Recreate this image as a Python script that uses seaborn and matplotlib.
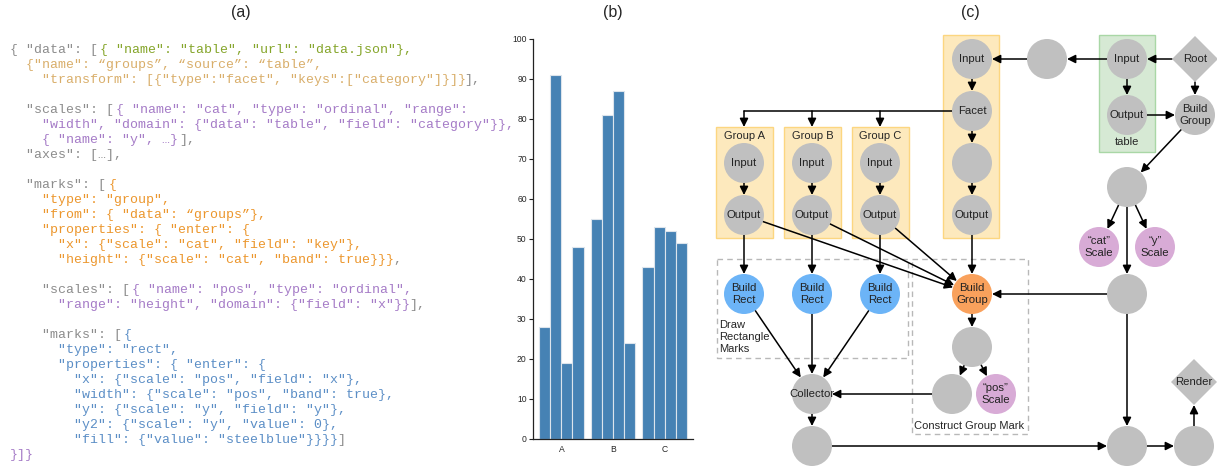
import numpy as np
import pandas as pd
import seaborn as sns
import matplotlib.pyplot as plt
from matplotlib.patches import Circle, Rectangle, Polygon

# ---------------- data ----------------
categories = ["A", "B", "C"]
bar_ids = ["b1", "b2", "b3", "b4"]
values_A = [28, 91, 19, 48]
values_B = [55, 81, 87, 24]
values_C = [43, 53, 52, 49]
y_ticks = list(range(0, 101, 10))

GRAY_T = "#8c8c8c"
GREEN_T = "#85a52a"
TAN_T = "#d9ae6a"
PURP_T = "#a57bc7"
ORNG_T = "#ec962c"
BLUE_T = "#5b8ec6"

code_lines = [
    [('{ "data": [', GRAY_T), ('{ "name": "table", "url": "data.json"},', GREEN_T)],
    [('  {"name": “groups”, “source”: “table”,', TAN_T)],
    [('    "transform": [{"type":"facet", "keys":["category"]}]}', TAN_T), ('],', GRAY_T)],
    [],
    [('  "scales": [', GRAY_T), ('{ "name": "cat", "type": "ordinal", "range":', PURP_T)],
    [('    "width", "domain": {"data": "table", "field": "category"}},', PURP_T)],
    [('    { "name": "y", …}', PURP_T), ('],', GRAY_T)],
    [('  "axes": […],', GRAY_T)],
    [],
    [('  "marks": [', GRAY_T), ('{', ORNG_T)],
    [('    "type": "group",', ORNG_T)],
    [('    "from": { "data": “groups”},', ORNG_T)],
    [('    "properties": { "enter": {', ORNG_T)],
    [('      "x": {"scale": "cat", "field": "key"},', ORNG_T)],
    [('      "height": {"scale": "cat", "band": true}}}', ORNG_T), (',', GRAY_T)],
    [],
    [('    "scales": [', GRAY_T), ('{ "name": "pos", "type": "ordinal",', PURP_T)],
    [('      "range": "height", "domain": {"field": "x"}}', PURP_T), ('],', GRAY_T)],
    [],
    [('    "marks": [', GRAY_T), ('{', BLUE_T)],
    [('      "type": "rect",', BLUE_T)],
    [('      "properties": { "enter": {', BLUE_T)],
    [('        "x": {"scale": "pos", "field": "x"},', BLUE_T)],
    [('        "width": {"scale": "pos", "band": true},', BLUE_T)],
    [('        "y": {"scale": "y", "field": "y"},', BLUE_T)],
    [('        "y2": {"scale": "y", "value": 0},', BLUE_T)],
    [('        "fill": {"value": "steelblue"}}}}', BLUE_T), (']', GRAY_T)],
    [('}]}', PURP_T)],
]

# dataflow graph (c)
GRAY = "#c0c0c0"
BLUE = "#6cb4f7"
ORANGE = "#f9a15c"
PINK = "#d8abd6"
nodes = {
    "root":   (1195, 59, "diamond", GRAY, "Root"),
    "t_in":   (1127, 59, "circle", GRAY, "Input"),
    "t_out":  (1127, 115, "circle", GRAY, "Output"),
    "bg0":    (1195, 115, "circle", GRAY, "Build\nGroup"),
    "n1":     (1047, 59, "circle", GRAY, ""),
    "f_in":   (972, 59, "circle", GRAY, "Input"),
    "facet":  (972, 111, "circle", GRAY, "Facet"),
    "f_mid":  (972, 163, "circle", GRAY, ""),
    "f_out":  (972, 215, "circle", GRAY, "Output"),
    "a_in":   (744, 163, "circle", GRAY, "Input"),
    "b_in":   (812, 163, "circle", GRAY, "Input"),
    "c_in":   (880, 163, "circle", GRAY, "Input"),
    "a_out":  (744, 215, "circle", GRAY, "Output"),
    "b_out":  (812, 215, "circle", GRAY, "Output"),
    "c_out":  (880, 215, "circle", GRAY, "Output"),
    "a_rect": (744, 294, "circle", BLUE, "Build\nRect"),
    "b_rect": (812, 294, "circle", BLUE, "Build\nRect"),
    "c_rect": (880, 294, "circle", BLUE, "Build\nRect"),
    "coll":   (812, 394, "circle", GRAY, "Collector"),
    "n_bot":  (812, 446, "circle", GRAY, ""),
    "bg1":    (972, 294, "circle", ORANGE, "Build\nGroup"),
    "g_mid":  (972, 347, "circle", GRAY, ""),
    "g_left": (952, 394, "circle", GRAY, ""),
    "pos":    (996, 394, "circle", PINK, "“pos”\nScale"),
    "s_top":  (1127, 187, "circle", GRAY, ""),
    "cat":    (1099, 247, "circle", PINK, "“cat”\nScale"),
    "ysc":    (1155, 247, "circle", PINK, "“y”\nScale"),
    "s_mid":  (1127, 294, "circle", GRAY, ""),
    "s_bot":  (1127, 446, "circle", GRAY, ""),
    "r_in":   (1194, 446, "circle", GRAY, ""),
    "render": (1194, 382, "diamond", GRAY, "Render"),
}
edges = [
    ("root", "t_in"), ("root", "bg0"), ("t_in", "t_out"), ("t_out", "bg0"),
    ("t_in", "n1"), ("n1", "f_in"), ("f_in", "facet"), ("facet", "f_mid"),
    ("f_mid", "f_out"), ("f_out", "bg1"),
    ("a_in", "a_out"), ("b_in", "b_out"), ("c_in", "c_out"),
    ("a_out", "a_rect"), ("b_out", "b_rect"), ("c_out", "c_rect"),
    ("a_out", "bg1"), ("b_out", "bg1"), ("c_out", "bg1"),
    ("bg0", "s_top"), ("s_top", "cat"), ("s_top", "ysc"), ("s_top", "s_mid"),
    ("s_mid", "bg1"), ("s_mid", "s_bot"),
    ("a_rect", "coll"), ("b_rect", "coll"), ("c_rect", "coll"),
    ("bg1", "g_mid"), ("g_mid", "g_left"), ("g_mid", "pos"),
    ("g_left", "coll"), ("coll", "n_bot"), ("n_bot", "s_bot"),
    ("s_bot", "r_in"), ("r_in", "render"),
]
group_boxes = [("Group A", 716), ("Group B", 784), ("Group C", 852)]

# ---------------- figure ----------------
sns.set_style("ticks")
plt.rcParams["font.family"] = ["Liberation Sans", "DejaVu Sans"]

W, H = 1217, 466
fig = plt.figure(figsize=(W / 100, H / 100), dpi=100)
ax = fig.add_axes([0, 0, 1, 1])
ax.set_xlim(0, W)
ax.set_ylim(H, 0)
ax.axis("off")

for lbl, x in [("(a)", 241), ("(b)", 613), ("(c)", 970)]:
    ax.text(x, 13, lbl, ha="center", va="center", fontsize=11.5)

# (a) code listing
cw = 7.92
for i, segs in enumerate(code_lines):
    xpos = 10
    for txt, c in segs:
        ax.text(xpos, 50 + 15 * i, txt, color=c, fontsize=9.5,
                family=["Liberation Mono", "DejaVu Sans Mono"],
                ha="left", va="center")
        xpos += len(txt) * cw + 3

# (c) boxes
ax.add_patch(Rectangle((943, 35), 56, 203, fc="#fde9bd", ec="#fcd680", lw=1, zorder=1))
ax.add_patch(Rectangle((1099, 35), 56, 117, fc="#d6e9d4", ec="#a9d7a6", lw=1, zorder=1))
ax.text(1127, 142, "table", ha="center", va="center", fontsize=8, zorder=4)
for name, x in group_boxes:
    ax.add_patch(Rectangle((x, 127), 57, 111, fc="#fde9bd", ec="#fcd680", lw=1, zorder=1))
    ax.text(x + 28.5, 136, name, ha="center", va="center", fontsize=8, zorder=4)
ax.add_patch(Rectangle((717, 259), 191, 99, fill=False, ec="#b8b8b8", lw=1,
                       ls=(0, (4, 3)), zorder=1))
ax.text(719, 337, "Draw\nRectangle\nMarks", ha="left", va="center",
        fontsize=8, linespacing=1.25, zorder=4)
ax.add_patch(Rectangle((912, 259), 116, 175, fill=False, ec="#b8b8b8", lw=1,
                       ls=(0, (4, 3)), zorder=1))
ax.text(914, 426, "Construct Group Mark", ha="left", va="center", fontsize=8, zorder=4)

R = 20
D = 23


def edge_pt(n, u):
    x, y, shape, _, _ = nodes[n]
    t = R if shape == "circle" else D / (abs(u[0]) + abs(u[1]))
    return x + u[0] * t, y + u[1] * t


aprops = dict(arrowstyle="-|>,head_length=0.5,head_width=0.25", color="black",
              lw=1.1, shrinkA=0, shrinkB=0, mutation_scale=10)


def arrow(p0, p1):
    ax.annotate("", xy=p1, xytext=p0, arrowprops=aprops, zorder=2)


for a, b in edges:
    xa, ya = nodes[a][:2]
    xb, yb = nodes[b][:2]
    u = np.array([xb - xa, yb - ya], float)
    u /= np.hypot(*u)
    arrow(edge_pt(a, u), edge_pt(b, -u))

# facet fan-out
fx, fy = nodes["facet"][:2]
ax.plot([fx - R, nodes["a_in"][0]], [fy, fy], color="black", lw=1.1, zorder=2)
for n in ["a_in", "b_in", "c_in"]:
    arrow((nodes[n][0], fy), (nodes[n][0], 127))

for n, (x, y, shape, c, lbl) in nodes.items():
    if shape == "circle":
        ax.add_patch(Circle((x, y), R, fc=c, ec="none", zorder=3))
    else:
        ax.add_patch(Polygon([(x, y - D), (x + D, y), (x, y + D), (x - D, y)],
                             fc=c, ec="none", zorder=3))
    if lbl:
        ax.text(x, y, lbl, ha="center", va="center", fontsize=8.2,
                linespacing=1.15, color="#222222", zorder=4)

# (b) bar chart
df = pd.DataFrame({
    "category": np.repeat(categories, len(bar_ids)),
    "bar": bar_ids * len(categories),
    "value": values_A + values_B + values_C,
})
axb = fig.add_axes([533 / W, (H - 439) / H, 160 / W, 400 / H])
axb.patch.set_alpha(0)
sns.barplot(data=df, x="category", y="value", hue="bar", order=categories,
            palette=["#4682b4"] * 4, saturation=1, width=0.86, gap=0,
            edgecolor="#dce4ec", linewidth=0.8, legend=False, ax=axb)
axb.set_xlim(-0.55, 2.55)
axb.set_ylim(0, 100)
axb.set_yticks(y_ticks)
axb.set_xlabel("")
axb.set_ylabel("")
sns.despine(ax=axb)
for s in ["left", "bottom"]:
    axb.spines[s].set_color("#222222")
    axb.spines[s].set_linewidth(0.9)
axb.tick_params(axis="y", length=3, width=0.8, labelsize=6.2, pad=1.5, color="#222222")
axb.tick_params(axis="x", length=0, labelsize=6.2, pad=4)

fig.savefig("out.png", dpi=100)
